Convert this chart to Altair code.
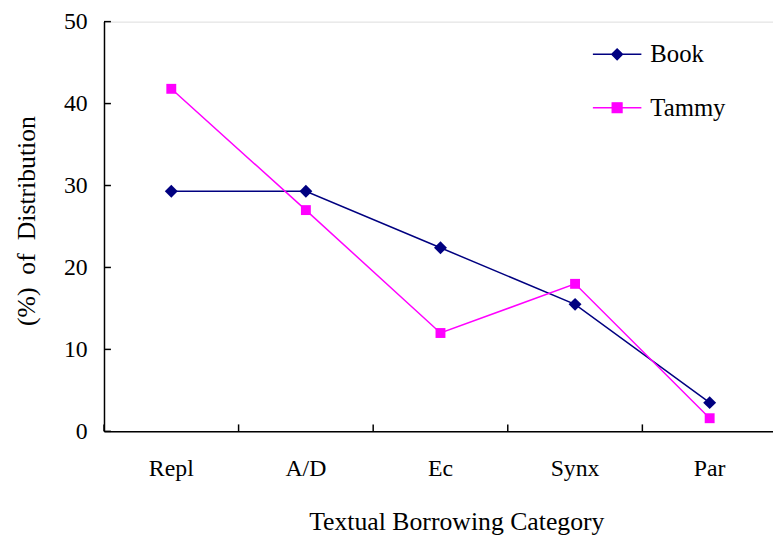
import altair as alt
import pandas as pd

categories = ["Repl", "A/D", "Ec", "Synx", "Par"]
series_names = ["Book", "Tammy"]
book_values = [29.3, 29.3, 22.4, 15.5, 3.5]
tammy_values = [41.8, 27.0, 12.0, 18.0, 1.6]
y_ticks = [0, 10, 20, 30, 40, 50]
colors = ["#000080", "#FF00FF"]

rows = []
for c, v in zip(categories, book_values):
    rows.append({"category": c, "series": "Book", "value": v})
for c, v in zip(categories, tammy_values):
    rows.append({"category": c, "series": "Tammy", "value": v})
df = pd.DataFrame(rows)
tick_df = pd.DataFrame({"t": y_ticks})
cat_df = pd.DataFrame({"category": categories})

FONT = "Liberation Serif"
W, H = 680, 414

xscale = alt.Scale(domain=categories, paddingInner=0, paddingOuter=0)
yscale = alt.Scale(domain=[0, 50], nice=False, zero=True)
cscale = alt.Scale(domain=series_names, range=colors)

x_enc = alt.X(
    "category:N", scale=xscale, sort=categories,
    axis=alt.Axis(
        title="Textual Borrowing Category", ticks=False, labelAngle=0,
        labelFont=FONT, labelFontSize=24, labelColor="black", labelPadding=26,
        titleFont=FONT, titleFontSize=26, titleFontWeight="normal", titleColor="black",
        titleX=356, titleY=99, titleBaseline="alphabetic", titleAlign="center",
        domainColor="black", domainWidth=1.5,
    ),
)
y_enc = alt.Y(
    "value:Q", scale=yscale,
    axis=alt.Axis(
        title="(%)\u00a0\u00a0of\u00a0\u00a0Distribution", values=y_ticks, ticks=False, grid=False,
        labelFont=FONT, labelFontSize=24, labelColor="black", labelPadding=17,
        titleFont=FONT, titleFontSize=26, titleFontWeight="normal", titleColor="black",
        titleAngle=270, titleX=-70, titleY=201, titleBaseline="alphabetic", titleAlign="center",
        domainColor="black", domainWidth=1.5,
    ),
)

base = alt.Chart(df)

book = base.transform_filter(alt.datum.series == "Book")
tammy = base.transform_filter(alt.datum.series == "Tammy")

book_line = book.mark_line(strokeWidth=1.5, color=colors[0]).encode(x=x_enc, y=y_enc)
tammy_line = tammy.mark_line(strokeWidth=1.5, color=colors[1]).encode(x=x_enc, y=y_enc)
book_pts = book.mark_point(shape="diamond", filled=True, size=170, opacity=1, color=colors[0]).encode(x=x_enc, y=y_enc)
tammy_pts = tammy.mark_point(shape="square", filled=True, size=100, opacity=1, color=colors[1]).encode(x=x_enc, y=y_enc)

book_sym = "M-1,0H1M0,-0.22L0.22,0L0,0.22L-0.22,0Z"
tammy_sym = "M-1,0H1M-0.2,-0.2H0.2V0.2H-0.2Z"

legend_cfg = alt.Legend(
    title=None, orient="none", legendX=493, legendY=18, padding=0,
    symbolSize=2401, symbolStrokeWidth=1.5, symbolOpacity=1,
    labelFont=FONT, labelFontSize=25, labelColor="black", labelOffset=8,
    rowPadding=24, clipHeight=30,
)
legend_layer = base.mark_point(filled=True, opacity=0, size=10, strokeWidth=1.5).encode(
    x=x_enc, y=y_enc,
    color=alt.Color("series:N", scale=cscale, legend=legend_cfg),
    stroke=alt.Stroke("series:N", scale=cscale, legend=legend_cfg),
    shape=alt.Shape("series:N", scale=alt.Scale(domain=series_names, range=[book_sym, tammy_sym]),
                    legend=legend_cfg),
)

ytick_rules = alt.Chart(tick_df).mark_rule(color="black", strokeWidth=1.5).encode(
    y=alt.Y("t:Q", scale=yscale),
    x=alt.value(0), x2=alt.value(7),
)
xtick_rules = alt.Chart(cat_df).mark_rule(color="black", strokeWidth=1.5).encode(
    x=alt.X("category:N", scale=xscale, sort=categories, bandPosition=0),
    y=alt.value(H - 7), y2=alt.value(H),
)

chart = alt.layer(book_line, tammy_line, book_pts, tammy_pts, legend_layer, ytick_rules, xtick_rules).properties(
    width=W, height=H,
    autosize=alt.AutoSizeParams(type="none"),
    padding={"left": 97, "top": 11, "right": -4, "bottom": 104},
).configure_view(stroke=None).configure(background="white")

chart.save("out.html", embed_options={"renderer": "svg", "actions": False})
